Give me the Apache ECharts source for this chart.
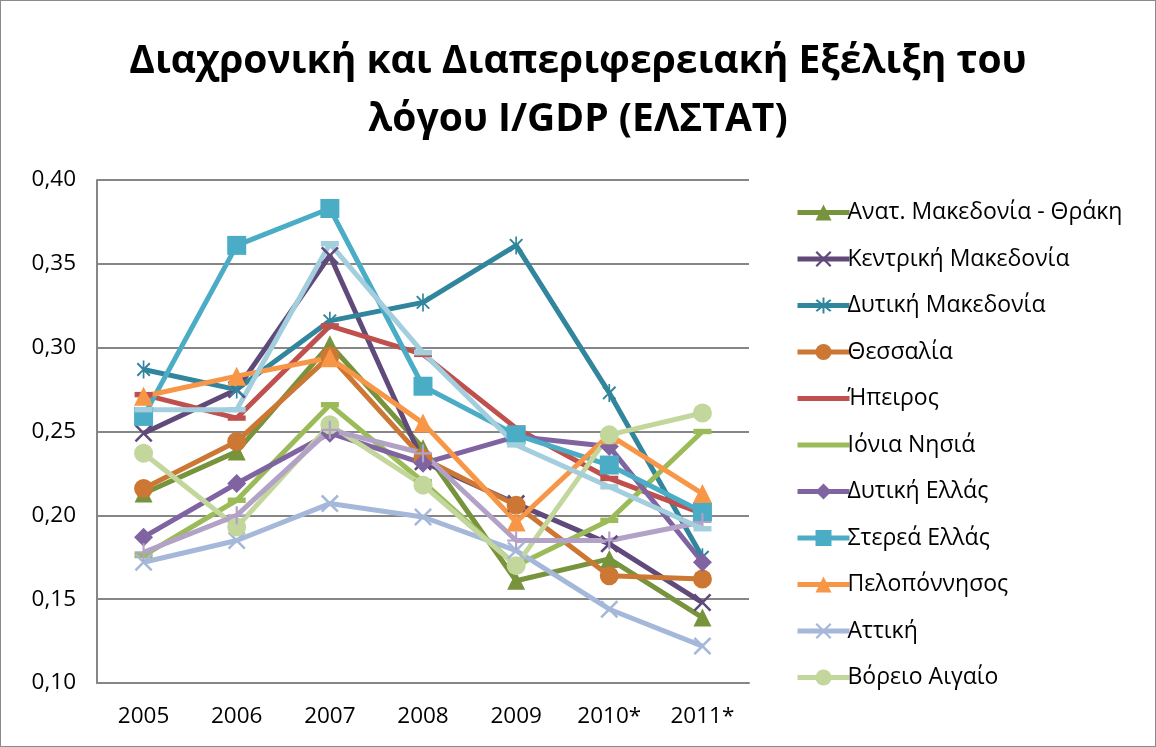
<!DOCTYPE html>
<html>
<head>
<meta charset="utf-8">
<script src="https://cdn.jsdelivr.net/npm/echarts@6/dist/echarts.min.js"></script>
<style>
html,body{margin:0;padding:0;background:#fff;}
#c{width:1156px;height:747px;box-sizing:border-box;border:1px solid #8a8a8a;}
</style>
</head>
<body>
<div id="c"></div>
<script>
const years = ['2005','2006','2007','2008','2009','2010*','2011*'];
const yTicks = {min:0.10, max:0.40, step:0.05};

const amth   = [0.213,0.238,0.302,0.240,0.161,0.174,0.139];
const kmak   = [0.249,0.275,0.355,0.232,0.207,0.183,0.148];
const dmak   = [0.287,0.275,0.316,0.327,0.361,0.273,0.175];
const thes   = [0.216,0.244,0.295,0.234,0.206,0.164,0.162];
const ipir   = [0.272,0.258,0.313,0.296,0.252,0.222,0.201];
const ionia  = [0.176,0.209,0.266,0.220,0.170,0.197,0.250];
const dell   = [0.187,0.219,0.249,0.231,0.247,0.241,0.172];
const sterea = [0.259,0.361,0.383,0.277,0.248,0.230,0.202];
const pelop  = [0.271,0.283,0.294,0.255,0.196,0.248,0.213];
const attiki = [0.172,0.185,0.207,0.199,0.179,0.144,0.122];
const baig   = [0.237,0.193,0.254,0.218,0.170,0.248,0.261];
const naig   = [0.178,0.200,0.251,0.237,0.185,0.185,0.196];
const kriti  = [0.263,0.263,0.362,0.297,0.242,0.217,0.192];

const legendNames = ['Ανατ. Μακεδονία - Θράκη','Κεντρική Μακεδονία','Δυτική Μακεδονία','Θεσσαλία','Ήπειρος','Ιόνια Νησιά','Δυτική Ελλάς','Στερεά Ελλάς','Πελοπόννησος','Αττική','Βόρειο Αιγαίο'];
const legendNoMarker = ['Ήπειρος','Ιόνια Νησιά'];

const X = 'path://M1,0L5,4L9,0L10,1L6,5L10,9L9,10L5,6L1,10L0,9L4,5L0,1Z';
const AST = 'path://M1,0L5,4L9,0L10,1L6,5L10,9L9,10L5,6L1,10L0,9L4,5L0,1Z M4.4,-1.5H5.6V11.5H4.4Z';
const PLUS = 'path://M4.4,0H5.6V4.4H10V5.6H5.6V10H4.4V5.6H0V4.4H4.4Z';
const DASH = 'path://M0,0H10V3H0Z';

function s(name, data, color, symbol, size){
  return {
    name, type:'line', data, symbol, symbolSize:size,
    symbolKeepAspect:true,
    lineStyle:{color, width:5},
    itemStyle:{color},
    showAllSymbol:true, animation:false
  };
}

const series = [
  s('Ανατ. Μακεδονία - Θράκη', amth, '#77933C', 'triangle', 18),
  s('Κεντρική Μακεδονία', kmak, '#604A7B', X, 18),
  s('Δυτική Μακεδονία', dmak, '#31859C', AST, 18),
  s('Θεσσαλία', thes, '#CC7733', 'circle', 19),
  s('Ήπειρος', ipir, '#C0504D', DASH, 18),
  s('Ιόνια Νησιά', ionia, '#9BBB59', DASH, 18),
  s('Δυτική Ελλάς', dell, '#8064A2', 'diamond', 19),
  s('Στερεά Ελλάς', sterea, '#4BACC6', 'rect', 19),
  s('Πελοπόννησος', pelop, '#F79646', 'triangle', 19),
  s('Αττική', attiki, '#A5B8D9', X, 18),
  s('Βόρειο Αιγαίο', baig, '#C3D69B', 'circle', 19),
  s('Νότιο Αιγαίο', naig, '#B3A2C7', PLUS, 18),
  s('Κρήτη', kriti, '#A3CEDD', DASH, 18)
];

const legendData = legendNames.map(n => legendNoMarker.includes(n) ? {name:n, itemStyle:{opacity:0}} : {name:n});

const chart = echarts.init(document.getElementById('c'), null, {renderer:'canvas'});
chart.setOption({
  backgroundColor:'#fff',
  animation:false,
  title:{
    text:'Διαχρονική και Διαπεριφερειακή Εξέλιξη του\nλόγου I/GDP (ΕΛΣΤΑΤ)',
    left:'center', top:27,
    textStyle:{fontFamily:'Open Sans', fontWeight:'bold', fontSize:39, lineHeight:58, color:'#000'}
  },
  grid:{left:96, top:179, right:406, bottom:63, containLabel:false},
  legend:{
    data:legendData, orient:'vertical', left:789, top:195,
    itemWidth:52, itemHeight:20, itemGap:23.5,
    lineStyle:{width:5},
    textStyle:{fontFamily:'Open Sans', fontSize:23, color:'#000', lineHeight:22, padding:[0,0,0,-7]}
  },
  xAxis:{
    type:'category', data:years, boundaryGap:true,
    axisLine:{lineStyle:{color:'#868686', width:2}},
    axisTick:{show:false},
    axisLabel:{fontFamily:'Open Sans', fontSize:22.5, color:'#000', margin:22}
  },
  yAxis:{
    type:'value', min:yTicks.min, max:yTicks.max, interval:yTicks.step,
    axisLine:{show:true, lineStyle:{color:'#868686', width:2}},
    axisTick:{show:false},
    splitLine:{lineStyle:{color:'#868686', width:2}},
    axisLabel:{fontFamily:'Open Sans', fontSize:22.5, color:'#000', margin:21,
      formatter:v=>v.toFixed(2).replace('.',',')}
  },
  series
});
</script>
</body>
</html>
